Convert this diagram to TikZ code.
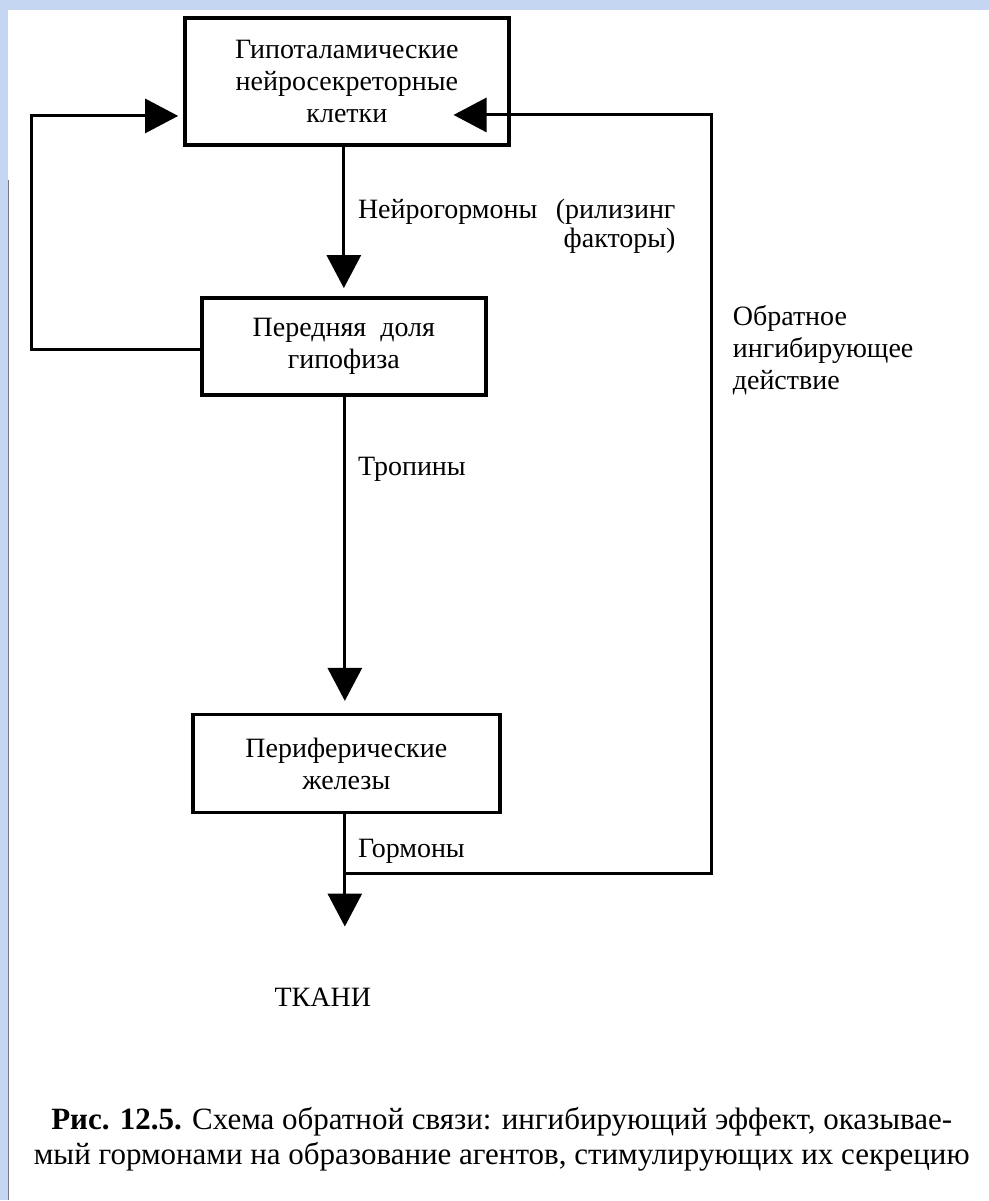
\documentclass[tikz,border=0pt]{standalone}
\usepackage{fontspec}
\setmainfont{Liberation Serif}
\usetikzlibrary{arrows.meta}
\definecolor{bgblue}{RGB}{196,214,242}
\definecolor{edgegray}{RGB}{120,120,130}
\begin{document}
\begin{tikzpicture}[x=1pt,y=-1pt,
  box/.style={draw=black,line width=3.5pt,rectangle,inner sep=0pt,align=center,
    font=\fontsize{28}{32}\selectfont},
  lbl/.style={inner sep=0pt,font=\fontsize{28}{32}\selectfont},
  conn/.style={line width=3pt,line join=miter},
  arr/.style={conn,-{Triangle[length=33pt,width=34pt]}},
  captxt/.style={inner sep=0pt,font=\fontsize{31}{35}\selectfont}]
% background
\fill[bgblue] (0,0) rectangle (989,1201);
\fill[white] (8,10) rectangle (989,1201);
\draw[edgegray,line width=1.2pt] (8.5,180) -- (8.5,1201);
\useasboundingbox (0,0) rectangle (989,1201);

% boxes
\node[box,minimum width=324pt,minimum height=127pt] (hyp) at (347,81.5)
  {Гипоталамические\\нейросекреторные\\клетки};
\node[box,minimum width=284pt,minimum height=97pt] (pit) at (344,346.5)
  {Передняя\ \ доля\\гипофиза};
\node[box,minimum width=307pt,minimum height=98pt] (per) at (346.5,764)
  {Периферические\\железы};
\node[lbl] (tis) at (323,998) {ТКАНИ};

% helper coordinates
\coordinate (j) at (345,874);
\coordinate (tip) at (345,927);
\coordinate (rc) at (712,874);

% main vertical arrows
\draw[arr,shorten >=8pt] (hyp.south -| 344,0) -- (pit.north -| 344,0);
\draw[arr,shorten >=12pt] (pit.south -| 345,0) -- (per.north -| 345,0);
\draw[arr] (per.south -| 345,0) -- (tip);

% left feedback
\draw[arr,shorten >=5pt] ([yshift=-3.5pt]pit.west) -- ++(-169,0) |- ([yshift=-34.5pt]hyp.west);

% right feedback (inhibitory)
\draw[arr] (j) -- (rc) |- ([xshift=-57pt,yshift=-33.5pt]hyp.east);

% labels
\node[lbl,anchor=west] (nh) at (358,212) {Нейрогормоны};
\node[lbl,anchor=east] (rf) at (676,212) {(рилизинг};
\node[lbl,anchor=east] (fk) at (676,241) {факторы)};
\node[lbl,anchor=west] (tr) at (358,470) {Тропины};
\node[lbl,anchor=north west,align=left] (ob) at (733,305)
  {Обратное\\ингибирующее\\действие};
\node[lbl,anchor=west] (gm) at (358,852) {Гормоны};

% caption
\node[captxt] (c1) at (502,1122) {\textbf{Рис. 12.5.} Схема обратной связи: ингибирующий эффект, оказывае-};
\node[captxt] (c2) at (502,1157) {мый гормонами на образование агентов, стимулирующих их секрецию};
\end{tikzpicture}
\end{document}
